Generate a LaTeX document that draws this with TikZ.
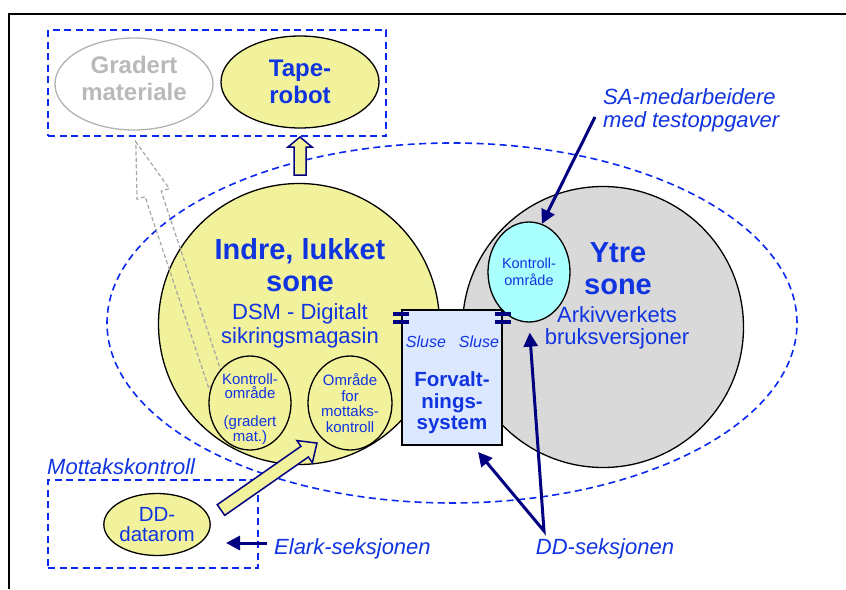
\documentclass[tikz,border=0pt]{standalone}
\usepackage{fontspec}
\setmainfont{Liberation Sans}
\usetikzlibrary{shapes.geometric,arrows.meta}

\definecolor{gul}{RGB}{242,242,156}
\definecolor{graasone}{RGB}{217,217,217}
\definecolor{turkis}{RGB}{170,255,255}
\definecolor{lyseblaa}{RGB}{220,232,255}
\definecolor{tekstblaa}{RGB}{16,52,224}
\definecolor{strekblaa}{RGB}{10,40,240}
\definecolor{marine}{RGB}{0,0,128}

\newcommand{\fsz}[2]{\fontsize{#1}{#2}\selectfont}
\def\blokkpil[#1](#2)(#3:#4:#5:#6:#7){\begin{scope}[shift={(#2)},rotate=#3]\draw[#1] (0,-#5) -- ({#4-#7},-#5) -- ({#4-#7},-#6) -- (#4,0) -- ({#4-#7},#6) -- ({#4-#7},#5) -- (0,#5) -- cycle;\end{scope}}

\tikzset{
  sonestrek/.style={draw=strekblaa, line width=1.6pt, dash pattern=on 7pt off 4.5pt},
  boks/.style={sonestrek, rectangle, inner sep=0},
  kant/.style={draw=black, line width=1.3pt},
  storsone/.style={circle, kant, inner sep=0, minimum size=281pt},
  flekk/.style={ellipse, kant, fill=gul, inner sep=0},
  tekst/.style={text=tekstblaa, align=center, inner sep=0},
  smaa/.style={tekst, font=\fsz{15}{15.5}},
  merknad/.style={text=tekstblaa, inner sep=0, font=\itshape\fsz{22}{23}},
  pil/.style={draw=marine, line width=3pt, line join=miter, -{Triangle[length=14pt,width=14pt]}},
  blokk/.style={draw=marine, line width=1.5pt, fill=gul, line join=miter},
  graapil/.style={draw=gray!70, line width=1.2pt, dash pattern=on 4pt off 2.5pt}
}

\begin{document}
\begin{tikzpicture}[x=1pt,y=-1pt]
  \useasboundingbox (0,0) rectangle (846,589);
  % ramme
  \draw[line width=2pt] (8.7,589) -- (8.7,13.5) -- (846,13.5);

  % ytre sone (stiplet)
  \node[sonestrek, ellipse, inner sep=0, minimum width=690pt, minimum height=360pt] (sone) at (452,323) {};

  % lager oppe
  \node[boks, minimum width=338pt, minimum height=106pt] (lager) at (217,83) {};
  \node[ellipse, draw=gray!60, line width=1.3pt, inner sep=0, minimum width=158pt, minimum height=92pt] (gradert) at (134,84) {};
  \node[tekst, text=gray!55, font=\bfseries\fsz{24}{27}] (gradtxt) at (134,78) {Gradert\\materiale};
  \node[flekk, tekst, font=\bfseries\fsz{24}{27}, minimum width=158pt, minimum height=92pt] (tape) at (300,82) {Tape-\\robot};

  % soner
  \node[storsone, fill=gul] (indre) at (299,324) {};
  \node[storsone, fill=graasone] (ytre) at (603,327) {};

  \coordinate (gradhale) at (216.6,384.7);
  \blokkpil[graapil](gradhale)(108.4:256:8.5:17:55);

  \node[tekst, font=\bfseries\fsz{29}{32}] (indretxt) at (300,265) {Indre, lukket\\sone};
  \node[tekst, font=\fsz{22}{23.5}] (dsmtxt) at (300,326) {DSM - Digitalt\\sikringsmagasin};
  \node[tekst, font=\bfseries\fsz{29}{32}] (ytretxt) at (618,269) {Ytre\\sone};
  \node[tekst, font=\fsz{22}{22}] (arktxt) at (617,328) {Arkivverkets\\bruksversjoner};

  \node[flekk, minimum width=82pt, minimum height=94pt] (kontrollA) at (250,403) {};
  \node[smaa, font=\fsz{15}{13.5}] (kontrollAtxt) at (250,409) {Kontroll-\\område\\[14.5pt](gradert\\mat.)};
  \node[flekk, smaa, minimum width=84pt, minimum height=94pt] (mottak) at (350,403) {Område\\for\\mottaks-\\kontroll};
  \node[ellipse, kant, fill=turkis, smaa, font=\fsz{14.5}{17}, minimum width=82pt, minimum height=100pt] (kontrollB) at (529,272) {Kontroll-\\område};

  % forvaltningssystem med sluser
  \node[draw, line width=1.3pt, fill=lyseblaa, inner sep=0, minimum width=100pt, minimum height=135pt] (forv) at (452,377.5) {};
  \foreach \hj in {north west,north east}{
    \fill[marine] ([shift={(-8,3)}]forv.\hj) rectangle ++(16,4);
    \fill[marine] ([shift={(-8,11)}]forv.\hj) rectangle ++(16,4);
  }
  \node[tekst, font=\itshape\fsz{16}{16}] (sluseV) at (426,342) {Sluse};
  \node[tekst, font=\itshape\fsz{16}{16}] (sluseH) at (479,342) {Sluse};
  \node[tekst, font=\bfseries\fsz{20.5}{21.5}] (forvtxt) at (452,403) {Forvalt-\\nings-\\system};

  % mottak nede
  \node[boks, minimum width=210pt, minimum height=88pt] (mottakboks) at (153,524) {};
  \node[flekk, tekst, font=\fsz{20.5}{20}, minimum width=106pt, minimum height=62pt] (datarom) at (157,524.5) {DD-\\datarom};
  \node[merknad, anchor=west] (mottaktxt) at (47,467) {Mottakskontroll};

  % blokkpiler
  \coordinate (tapehale) at (300,175);
  \blokkpil[blokk](tapehale)(90:38:6:12:10);
  \coordinate (datahale) at (221,510);
  \blokkpil[blokk](datahale)(34.9:117:6.5:13.5:15);

  % merknader med piler
  \node[merknad, anchor=west, align=left] (satxt) at (603,110) {SA-medarbeidere\\med testoppgaver};
  \coordinate (sastart) at (595,117);
  \draw[pil] (sastart) -- (kontrollB.75);

  \node[merknad, anchor=west] (elark) at (274,549) {Elark-seksjonen};
  \coordinate (elarkstart) at (267,543);
  \coordinate (elarktupp) at (226,543);
  \draw[pil] (elarkstart) -- (elarktupp);

  \node[merknad] (ddtxt) at (605,549) {DD-seksjonen};
  \coordinate (ddpunkt) at (544,531);
  \coordinate (forvpil) at (478,452);
  \draw[pil, {Triangle[length=14pt,width=14pt]}-{Triangle[length=14pt,width=14pt]}, shorten >=10pt] (forvpil) -- (ddpunkt) -- (kontrollB.south);
\end{tikzpicture}
\end{document}
